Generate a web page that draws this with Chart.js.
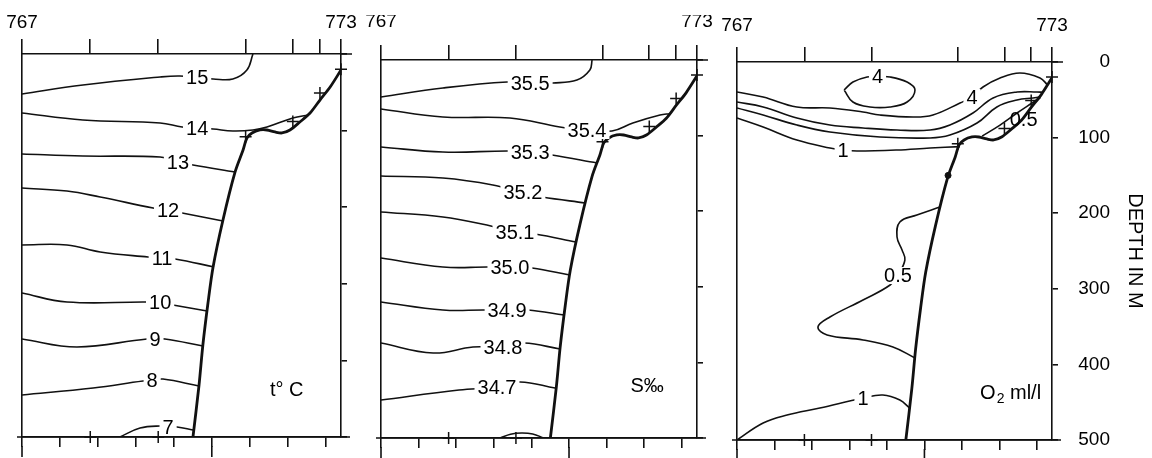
<!DOCTYPE html>
<html>
<head>
<meta charset="utf-8">
<script src="https://cdn.jsdelivr.net/npm/chart.js@4.4.1/dist/chart.umd.min.js"></script>
<style>
  body { margin: 0; background: #fff; }
  #wrap { position: relative; width: 1152px; height: 458px; }
  #wrap canvas { position: absolute; left: 0; top: 0; }
</style>
</head>
<body>
<div id="wrap">
  <canvas id="tempChart" width="1152" height="458"></canvas>
  <canvas id="salChart" width="1152" height="458"></canvas>
  <canvas id="oxyChart" width="1152" height="458"></canvas>
</div>
<script>
// Stations along the section (position 0-100 across the panel)
const stations = ['767', '768', '769', '770', '771', '772', '773'];
const stationPos = [0, 21.4, 42.7, 70.1, 84.9, 93.4, 100];
const distTicks = [0, 11.9, 23.8, 35.7, 47.6, 59.5, 71.4, 83.3, 95.2];
const distMajor = [0, 59.5];

// deepest sample at each station (m)
const sampleX = [21.4, 42.7, 70.1, 84.9, 93.4, 100];
const sampleDepth = [500, 500, 108, 88, 51, 20];

// sea floor
const floorX = [100, 96.6, 93.4, 90.3, 87.1, 84.0, 81.5, 79.3, 76.8, 74.6, 72.1, 70.5, 69.3, 66.8, 63.0, 59.9, 58.3, 56.7, 55.5, 53.6];
const floorDepth = [20.9, 43.1, 60.1, 77.0, 88.8, 99.2, 103.1, 101.8, 99.2, 99.2, 103.1, 109.7, 125.3, 154.0, 216.7, 278.1, 325.1, 379.9, 432.1, 500];

// temperature, deg C  ([position, depth] per vertex)
const tempLevels = ['15', '14', '13', '12', '11', '10', '9', '8', '7'];
const tempLabelIdx = [4, 4, 3, 4, 4, 3, 3, 3, 3];
const tempLines = [
  [[0, 52.2], [19.1, 40.5], [43.3, 30.0], [49.5, 28.7], [54.9, 31], [59.9, 32.6], [66.1, 32.6], [70.5, 20.9], [72.4, 0]],
  [[0, 77], [19.1, 86.2], [43.3, 90.1], [50.2, 95.3], [54.9, 96.6], [59.9, 97.9], [66.1, 100.5], [72.4, 99.2], [76.8, 95.3], [84.9, 83.6], [89.7, 79.6]],
  [[0, 130.5], [19.1, 133.2], [43.3, 134.5], [48.9, 141], [53.6, 145], [66.8, 154]],
  [[0, 175], [14.1, 178.9], [24.5, 186.7], [41.1, 201.1], [45.8, 204], [50.2, 207.6], [63, 218]],
  [[0, 249.3], [14.1, 249.3], [24.5, 258.5], [39.5, 265], [43.9, 266.3], [48, 267.6], [60.2, 278]],
  [[0, 312], [14.1, 323.8], [39.2, 323.8], [43.3, 325], [47.3, 327.6], [58.0, 335.5]],
  [[0, 372], [17.2, 382.5], [39.2, 372], [41.7, 373], [44.8, 372], [56.7, 381.2]],
  [[0, 445.2], [22.3, 436], [37.9, 426.9], [40.8, 426], [44.2, 424.3], [55.5, 433.4]],
  [[30.7, 500], [37, 488.3], [43.3, 485.6], [45.8, 487], [48.6, 487], [53.6, 490.9]]
];

// salinity, per mille
const salLevels = ['35.5', '35.4', '35.3', '35.2', '35.1', '35.0', '34.9', '34.8', '34.7', ''];
const salLabelIdx = [3, 4, 3, 3, 3, 3, 3, 3, 2, -1];
const salLines = [
  [[0, 48.9], [19.6, 37.0], [39.9, 29.1], [47.2, 31], [54.4, 30.4], [62.0, 26.5], [66.1, 13.2], [66.8, 0]],
  [[0, 64.8], [19.6, 75.4], [40.8, 76.7], [56.6, 88.6], [65.2, 92.6], [73.1, 93.9], [79.7, 83.3], [88.3, 72.8], [91.5, 71]],
  [[0, 115.1], [19.6, 121.7], [39.9, 120.4], [47.2, 121.7], [54.1, 125.7], [68.4, 136.2]],
  [[0, 153.4], [19.6, 156.1], [35.4, 165.3], [44.9, 175.9], [51, 181.2], [64.7, 189.2]],
  [[0, 201], [19.6, 207.7], [33.5, 218.3], [42.4, 227.5], [48.7, 230.2], [61.8, 240.7]],
  [[0, 261.9], [19.6, 273.8], [33.5, 273.8], [40.8, 273.8], [47.8, 275.1], [59.7, 284.4]],
  [[0, 320], [19.6, 330.7], [32.3, 330.7], [39.9, 330.7], [46.5, 330.7], [58.0, 337.3]],
  [[0, 374.4], [16.5, 387.6], [29.1, 379.7], [38.6, 379.7], [45.3, 374.4], [56.7, 382.3]],
  [[0, 449.8], [24.7, 436.5], [36.7, 432.6], [44, 425.9], [55.1, 433.9]],
  [[37.7, 500], [41, 495], [44.5, 493.4], [48, 494.7], [51.5, 500]]
];

// dissolved oxygen, ml/l
const oxyLevels = ['4', '4', '', '', '1', '0.5', '0.5', '1'];
const oxyLabelIdx = [3, 9, -1, -1, 4, -1, 6, 4];
const oxyLines = [
  [[34, 37], [36.8, 26.5], [41.3, 19.8], [44.6, 19.5], [48.6, 19.8], [54, 26.5], [56.5, 37], [54, 52.9], [48.6, 59.5], [42.2, 59.5], [36.8, 52.9], [34, 37]],
  [[0, 39.7], [8.3, 46.3], [19, 59.5], [29.5, 60.8], [40, 66.1], [45.4, 70.1], [55.9, 72.8], [62.2, 70.1], [70.8, 54.2], [74.6, 46.3], [78.1, 33.1], [83.5, 21.2], [89.8, 14.6], [96.2, 21.2], [98.6, 30.4]],
  [[0, 52.9], [8.3, 59.5], [19, 74.1], [29.5, 83.4], [40, 87.3], [50.8, 90], [61.3, 90], [67.6, 83.3], [74.9, 67.5], [81.3, 47.6], [88.9, 39.7], [95.2, 39.7], [97.1, 40]],
  [[0, 60.8], [8.3, 70.1], [19, 83.4], [29.5, 92.6], [45.4, 99.2], [61.3, 100.5], [67.6, 96.6], [76.2, 80.7], [82.5, 59.5], [88.9, 50.3], [94, 47.6], [96.1, 46.5]],
  [[0, 74.1], [8.3, 86], [19, 103.2], [29.5, 113.8], [33.7, 116.4], [38.1, 117.7], [50.8, 116.4], [61.3, 113.8], [70.8, 112]],
  [[77.8, 98], [83.5, 83.4], [88.9, 67.5], [93.7, 54.2], [96.3, 47]],
  [[64.4, 191.8], [57.1, 202.4], [51.7, 211.6], [50.8, 231.5], [52.4, 248.7], [53.3, 261.9], [51.1, 281.8], [48.6, 295], [40, 314.8], [29.5, 337.3], [25.7, 350.5], [28.6, 361.1], [40, 367.7], [49.5, 377], [56.5, 391.5]],
  [[0, 500], [8.3, 477.5], [15.9, 467], [26.3, 457.7], [40, 444.5], [46.3, 440.5], [51.7, 447.1], [54.8, 457.7]]
];
const oxySpotX = [67];
const oxySpotDepth = [150];

const INK = '#111';
const FONT = '"Liberation Sans", Arial, sans-serif';

Chart.defaults.color = '#000';
Chart.defaults.font.family = FONT;
Chart.defaults.font.size = 19;

// level labels sit on a vertex of their line, with a white gap behind
const contourLabels = {
  id: 'contourLabels',
  afterDatasetsDraw(chart, args, opts) {
    const {ctx, scales: {x, y}} = chart;
    ctx.save();
    ctx.font = '20px ' + FONT;
    ctx.textAlign = 'center';
    ctx.textBaseline = 'middle';
    chart.data.datasets.forEach(ds => {
      if (!ds.level || ds.labelIdx < 0) return;
      const p = ds.data[ds.labelIdx];
      const px = x.getPixelForValue(p.x);
      const py = y.getPixelForValue(p.y);
      const w = ctx.measureText(ds.level).width;
      ctx.fillStyle = '#fff';
      ctx.fillRect(px - w / 2 - 3, py - 8, w + 6, 17);
      ctx.fillStyle = '#000';
      ctx.fillText(ds.level, px, py + 1);
    });
    (opts.notes || []).forEach(n => {
      const px = x.getPixelForValue(n.at[0]);
      const py = y.getPixelForValue(n.at[1]);
      if (n.sub) {
        // O + subscript 2 + unit
        ctx.textAlign = 'left';
        const big = '20px ' + FONT, small = '14px ' + FONT;
        ctx.font = big;
        const w1 = ctx.measureText(n.text).width;
        const w3 = ctx.measureText(n.rest).width;
        ctx.font = small;
        const w2 = ctx.measureText(n.sub).width;
        const cx = px - (w1 + w2 + w3) / 2;
        ctx.font = big;
        ctx.fillText(n.text, cx, py);
        ctx.font = small;
        ctx.fillText(n.sub, cx + w1 + 1, py + 5);
        ctx.font = big;
        ctx.fillText(n.rest, cx + w1 + w2 + 1, py);
        ctx.textAlign = 'center';
      } else {
        ctx.fillText(n.text, px, py);
      }
    });
    ctx.restore();
  }
};

// axis lines running past the frame and the long distance ticks
const frameExtras = {
  id: 'frameExtras',
  afterDraw(chart) {
    const {ctx, chartArea: a, scales: {xb}} = chart;
    ctx.save();
    ctx.strokeStyle = INK;
    ctx.lineWidth = 1.6;
    ctx.beginPath();
    ctx.moveTo(a.right, a.top);
    ctx.lineTo(a.right + 11, a.top);
    ctx.moveTo(a.left - 5, a.bottom);
    ctx.lineTo(a.right + 9, a.bottom);
    distMajor.forEach(v => {
      const px = xb.getPixelForValue(v);
      ctx.moveTo(px, a.bottom + 9);
      ctx.lineTo(px, a.bottom + 20);
    });
    ctx.stroke();
    ctx.restore();
  }
};

function toPoints(xs, ds) {
  return xs.map((v, i) => ({x: v, y: ds[i]}));
}

function sectionChart(id, box, levels, lines, labelIdx, opts) {
  const datasets = lines.map((pts, i) => ({
    data: pts.map(p => ({x: p[0], y: p[1]})),
    level: levels[i],
    labelIdx: labelIdx[i],
    showLine: true,
    borderColor: INK,
    borderWidth: 1.6,
    pointRadius: 0,
    tension: 0.4
  }));
  datasets.push({
    data: toPoints(floorX, floorDepth),
    showLine: true,
    borderColor: INK,
    borderWidth: 2.8,
    pointRadius: 0,
    tension: 0.3
  });
  datasets.push({
    data: toPoints(sampleX, sampleDepth),
    pointStyle: 'cross',
    pointRadius: 6,
    borderColor: INK,
    borderWidth: 1.5,
    clip: false
  });
  if (opts.spots) {
    datasets.push({
      data: toPoints(opts.spots[0], opts.spots[1]),
      pointStyle: 'circle',
      pointRadius: 3,
      backgroundColor: INK,
      borderColor: INK
    });
  }

  const depthOn = !!opts.depthLabels;
  const rightW = depthOn ? 58 : 6;
  const titleW = depthOn ? 41 : 0;
  const lineOpts = {color: INK, lineWidth: 1.6};

  return new Chart(document.getElementById(id), {
    type: 'scatter',
    data: {datasets},
    options: {
      responsive: false,
      animation: false,
      events: [],
      layout: {
        padding: {
          left: box.left,
          right: 1152 - box.right - rightW - titleW,
          top: box.top - 45,
          bottom: 458 - box.bottom - 10
        }
      },
      plugins: {
        legend: {display: false},
        tooltip: {enabled: false},
        contourLabels: {notes: opts.notes}
      },
      scales: {
        x: {
          type: 'linear', position: 'top', min: 0, max: 100,
          afterBuildTicks: s => { s.ticks = stationPos.map(v => ({value: v})); },
          afterFit: s => { s.height = 45; },
          ticks: {
            padding: opts.topPad, maxRotation: 0, autoSkip: false,
            callback: (v, i, t) => (i === 0 || i === t.length - 1) ? stations[i === 0 ? 0 : stations.length - 1] : ''
          },
          grid: {drawOnChartArea: false, tickLength: 15, ...lineOpts},
          border: {display: true, color: INK, width: 1.6}
        },
        xb: {
          type: 'linear', position: 'bottom', min: 0, max: 100,
          afterBuildTicks: s => { s.ticks = distTicks.map(v => ({value: v})); },
          afterFit: s => { s.height = 10; },
          ticks: {display: false},
          grid: {drawOnChartArea: false, tickLength: 10, ...lineOpts},
          border: {display: true, color: INK, width: 1.6}
        },
        yl: {
          type: 'linear', position: 'left', min: 0, max: 500, reverse: true,
          afterFit: s => { s.width = 0; },
          ticks: {display: false},
          grid: {drawOnChartArea: false, drawTicks: false, ...lineOpts},
          border: {display: true, color: INK, width: 1.6}
        },
        y: {
          type: 'linear', position: 'right', min: 0, max: 500, reverse: true,
          afterFit: s => { s.width = rightW; },
          ticks: {display: depthOn, stepSize: 100, crossAlign: 'far'},
          grid: {drawOnChartArea: false, tickLength: 6, ...lineOpts},
          border: {display: true, color: INK, width: 1.6}
        },
        // depth axis caption, outside the depth labels
        yt: {
          type: 'linear', position: 'right', min: 0, max: 500, reverse: true,
          display: depthOn,
          afterFit: s => { s.width = titleW; },
          ticks: {display: false},
          grid: {display: false},
          border: {display: false},
          title: {display: depthOn, text: 'DEPTH IN M', font: {size: 20}, color: '#000'}
        }
      }
    },
    plugins: [contourLabels, frameExtras]
  });
}

sectionChart('tempChart', {left: 22, right: 341, top: 54, bottom: 437},
  tempLevels, tempLines, tempLabelIdx,
  {topPad: 5, notes: [{text: 't° C', at: [83, 439]}]});

sectionChart('salChart', {left: 381, right: 697, top: 60, bottom: 438},
  salLevels, salLines, salLabelIdx,
  {topPad: 12, notes: [{text: 'S‰', at: [84.2, 432]}]});

sectionChart('oxyChart', {left: 737, right: 1052, top: 62, bottom: 440},
  oxyLevels, oxyLines, oxyLabelIdx,
  {
    topPad: 10,
    depthLabels: true,
    spots: [oxySpotX, oxySpotDepth],
    notes: [{text: '0.5', at: [91, 77]}, {text: 'O', sub: '2', rest: ' ml/l', at: [86.7, 439]}]
  });
</script>
</body>
</html>
